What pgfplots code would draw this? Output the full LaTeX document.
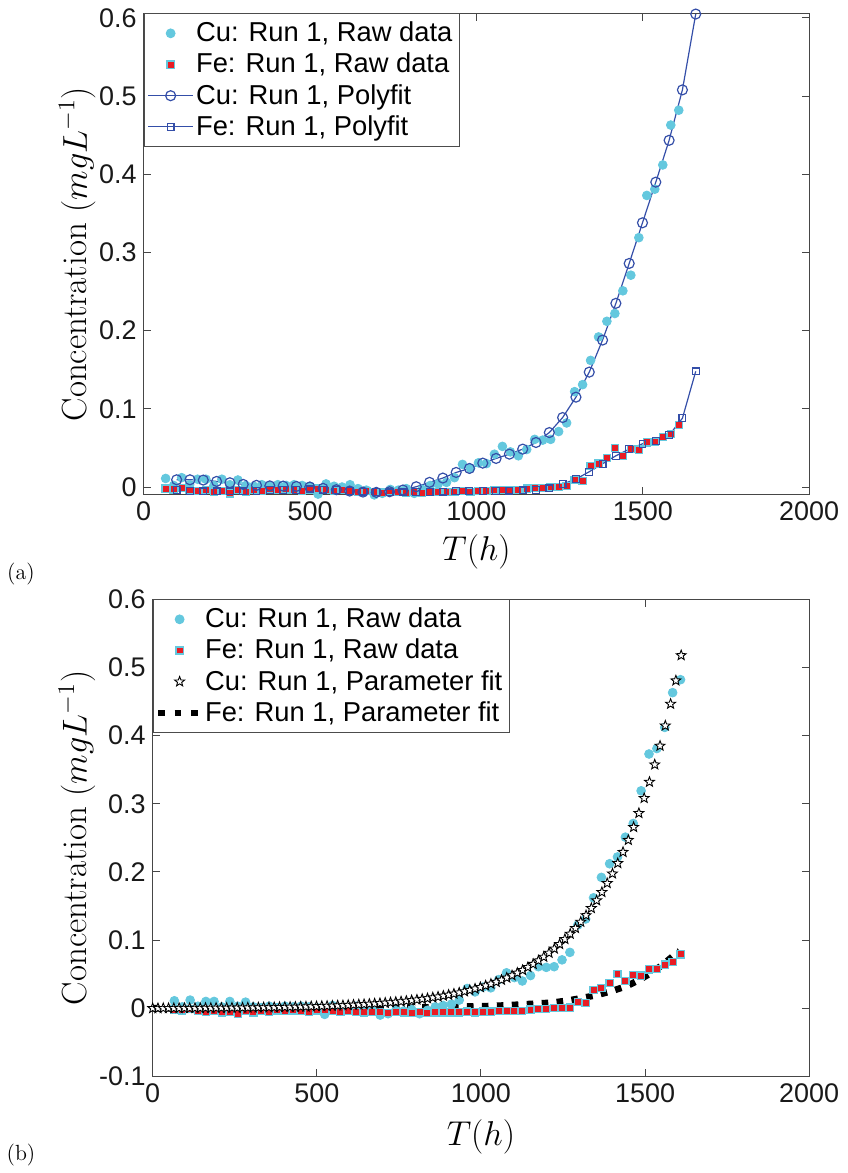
\documentclass[border=0pt]{standalone}
\usepackage{fontspec}
\setsansfont{Liberation Sans}
\usepackage{pgfplots}
\usepackage{pgfplotstable}
\pgfplotsset{compat=1.18}
\definecolor{cucyan}{RGB}{100,200,222}
\definecolor{fered}{RGB}{232,28,36}
\definecolor{fitblue}{RGB}{52,78,168}
\definecolor{axgray}{RGB}{70,70,70}

\pgfdeclareplotmark{ostar}{%
  \pgfpathmoveto{\pgfqpointpolar{90}{\pgfplotmarksize}}%
  \pgfpathlineto{\pgfqpointpolar{126}{0.42\pgfplotmarksize}}%
  \pgfpathlineto{\pgfqpointpolar{162}{\pgfplotmarksize}}%
  \pgfpathlineto{\pgfqpointpolar{198}{0.42\pgfplotmarksize}}%
  \pgfpathlineto{\pgfqpointpolar{234}{\pgfplotmarksize}}%
  \pgfpathlineto{\pgfqpointpolar{270}{0.42\pgfplotmarksize}}%
  \pgfpathlineto{\pgfqpointpolar{306}{\pgfplotmarksize}}%
  \pgfpathlineto{\pgfqpointpolar{342}{0.42\pgfplotmarksize}}%
  \pgfpathlineto{\pgfqpointpolar{18}{\pgfplotmarksize}}%
  \pgfpathlineto{\pgfqpointpolar{54}{0.42\pgfplotmarksize}}%
  \pgfpathclose
  \pgfusepathqfillstroke
}

\pgfplotstableread{
x cu fe
66 0.011 -0.002
90 0.002 -0.003
114 0.012 -0.001
138 0.003 -0.004
162 0.010 -0.005
187 0.010 -0.004
211 0.002 -0.006
235 0.010 -0.005
259 0.003 -0.008
283 0.009 -0.004
307 0.002 -0.006
331 0.001 -0.004
355 0.003 -0.005
379 0.001 -0.003
403 0.003 -0.004
428 0.002 -0.003
452 0.003 -0.004
476 0.002 -0.005
500 0.001 -0.003
524 -0.009 -0.002
548 0.004 -0.004
572 0.001 -0.005
596 0.000 -0.004
620 0.003 -0.005
644 -0.002 -0.006
669 -0.004 -0.005
693 -0.010 -0.006
717 -0.008 -0.007
741 -0.003 -0.005
765 -0.004 -0.006
789 -0.002 -0.007
813 -0.008 -0.006
837 -0.003 -0.007
861 0.002 -0.006
885 0.004 -0.006
910 0.006 -0.006
934 0.012 -0.006
958 0.029 -0.005
982 0.024 -0.006
1006 0.031 -0.005
1030 0.030 -0.005
1054 0.042 -0.004
1078 0.052 -0.004
1102 0.045 -0.004
1126 0.040 -0.004
1151 0.048 -0.002
1175 0.061 -0.001
1199 0.060 -0.001
1223 0.061 0.000
1247 0.071 0.000
1271 0.082 0.001
1295 0.122 0.009
1319 0.131 0.008
1343 0.162 0.027
1367 0.192 0.030
1392 0.212 0.037
1416 0.222 0.050
1440 0.251 0.040
1464 0.271 0.049
1488 0.319 0.048
1512 0.373 0.057
1536 0.381 0.058
1560 0.412 0.064
1584 0.463 0.068
1608 0.482 0.079
}\rawdata

\pgfplotstableread{
x cu fe
99 0.0093 -0.0034
139 0.0093 -0.0047
179 0.0089 -0.0055
219 0.0072 -0.0055
259 0.0055 -0.0055
299 0.0034 -0.0055
339 0.0022 -0.0047
379 0.0015 -0.0038
419 0.0012 -0.0034
459 0.0008 -0.0034
499 0.0000 -0.0030
539 -0.0017 -0.0034
579 -0.0034 -0.0040
619 -0.0051 -0.0047
659 -0.0064 -0.0058
699 -0.0068 -0.0066
739 -0.0060 -0.0068
779 -0.0038 -0.0068
819 0.0004 -0.0066
859 0.0060 -0.0062
899 0.0115 -0.0057
939 0.0187 -0.0053
979 0.0238 -0.0051
1019 0.0306 -0.0049
1059 0.0366 -0.0047
1099 0.0421 -0.0046
1139 0.0485 -0.0043
1179 0.0570 -0.0034
1219 0.0697 -0.0017
1259 0.0889 0.0038
1299 0.1150 0.0102
1339 0.1470 0.0196
1379 0.1880 0.0298
1419 0.2350 0.0400
1459 0.2860 0.0485
1499 0.3380 0.0553
1539 0.3900 0.0590
1579 0.4435 0.0663
1619 0.5080 0.0880
1659 0.6050 0.1480
}\polyfit

\pgfplotstableread{
x y
0 0.0000
16.1 0.0000
32.2 0.0001
48.3 0.0001
64.4 0.0001
80.5 0.0002
96.6 0.0002
112.7 0.0002
128.8 0.0003
144.9 0.0003
161 0.0004
177.1 0.0004
193.2 0.0005
209.3 0.0005
225.4 0.0006
241.5 0.0007
257.6 0.0007
273.7 0.0008
289.8 0.0009
305.9 0.0010
322 0.0011
338.1 0.0012
354.2 0.0013
370.3 0.0014
386.4 0.0016
402.5 0.0017
418.6 0.0019
434.7 0.0020
450.8 0.0022
466.9 0.0024
483 0.0026
499.1 0.0028
515.2 0.0031
531.3 0.0033
547.4 0.0036
563.5 0.0039
579.6 0.0042
595.7 0.0046
611.8 0.0050
627.9 0.0054
644 0.0058
660.1 0.0063
676.2 0.0068
692.3 0.0073
708.4 0.0079
724.5 0.0085
740.6 0.0092
756.7 0.0099
772.8 0.0107
788.9 0.0116
805 0.0125
821.1 0.0135
837.2 0.0145
853.3 0.0157
869.4 0.0169
885.5 0.0182
901.6 0.0196
917.7 0.0212
933.8 0.0228
949.9 0.0246
966 0.0265
982.1 0.0286
998.2 0.0308
1014.3 0.0332
1030.4 0.0357
1046.5 0.0385
1062.6 0.0415
1078.7 0.0447
1094.8 0.0481
1110.9 0.0519
1127 0.0559
1143.1 0.0602
1159.2 0.0648
1175.3 0.0699
1191.4 0.0753
1207.5 0.0811
1223.6 0.0873
1239.7 0.0940
1255.8 0.1013
1271.9 0.1091
1288 0.1175
1304.1 0.1266
1320.2 0.1363
1336.3 0.1468
1352.4 0.1581
1368.5 0.1703
1384.6 0.1834
1400.7 0.1975
1416.8 0.2127
1432.9 0.2291
1449 0.2467
1465.1 0.2657
1481.2 0.2862
1497.3 0.3082
1513.4 0.3319
1529.5 0.3574
1545.6 0.3849
1561.7 0.4145
1577.8 0.4464
1593.9 0.4807
1610 0.5177
}\cufit

\pgfplotstableread{
x y
0 0.0000
200 0.0000
400 0.0001
500 0.0002
600 0.0004
700 0.0007
800 0.0011
900 0.0019
1000 0.0030
1040 0.0035
1085 0.0045
1130 0.0058
1175 0.0070
1220 0.0084
1265 0.0113
1310 0.0152
1355 0.0196
1400 0.0254
1445 0.0327
1485 0.0424
1525 0.0537
1560 0.0664
1595 0.0805
1605 0.0840
}\fefit

\pgfplotsset{
  legend image code/.code={\path[draw=none,fill=none,use as bounding box] (0pt,-3pt) rectangle (22.5pt,3pt);\draw[mark repeat=2,mark phase=2,#1] plot coordinates {(0pt,0pt) (11.25pt,0pt) (22.5pt,0pt)};},
  markleg/.style={legend image code/.code={\path[draw=none,fill=none,use as bounding box] (0pt,-3pt) rectangle (22.5pt,3pt);\draw[##1] plot coordinates {(11.25pt,0pt)};}},
  dotleg/.style={legend image code/.code={\path[draw=none,fill=none,use as bounding box] (0pt,-3pt) rectangle (22.5pt,3pt);\draw[##1, dash pattern=on 3.3pt off 5pt] (0.5pt,0pt) -- (20.7pt,0pt);}},
  mystyle/.style={
    scale only axis,
    xmin=0, xmax=2000,
    xtick={0,500,1000,1500,2000},
    tick align=inside,
    tick pos=both,
    major tick length=3.8pt,
    axis line style={axgray, line width=0.5pt},
    every tick/.style={axgray, line width=0.5pt},
    tick label style={font=\sffamily\fontsize{13.5}{16}\selectfont, text=black!90},
    /pgf/number format/assume math mode=true,
    /pgf/number format/1000 sep={},
    label style={font=\fontsize{17.5}{20}\selectfont},
    xlabel={$T(h)$},
    ylabel={Concentration $(mgL^{-1})$},
    legend cell align=left,
    legend style={at={(0,1)}, anchor=north west, draw=black!70, line width=0.5pt, fill=white,
      font=\sffamily\fontsize{13.7}{16}\selectfont, inner xsep=2pt, inner ysep=2pt, row sep=0pt,
      nodes={inner xsep=1.5pt, inner ysep=2.1pt}, cells={anchor=west}},
  }
}

\begin{document}
\begin{tikzpicture}
\path (0,0) rectangle (423.5pt,-586.5pt);

\begin{axis}[mystyle,
  at={(71pt,-6.65pt)}, anchor=north west,
  width=333.5pt, height=241.35pt,
  ymin=-0.01, ymax=0.606,
  ytick={0,0.1,0.2,0.3,0.4,0.5,0.6},
  yticklabels={0,0.1,0.2,0.3,0.4,0.5,0.6},
  xlabel style={at={(axis description cs:0.5,-0.118)}, anchor=center},
  ylabel style={at={(axis description cs:-0.100,0.5)}, anchor=center},
]
\addplot[only marks, mark=*, mark size=2.2pt, color=cucyan, markleg] table[x=x,y=cu]{\rawdata};
\addlegendentry{Cu: Run 1, Raw data}
\addplot[only marks, mark=square*, mark size=1.8pt, mark options={fill=fered, draw=cucyan, line width=0.6pt}, markleg] table[x=x,y=fe]{\rawdata};
\addlegendentry{Fe: Run 1, Raw data}
\addplot[fitblue, line width=0.6pt, mark=o, mark size=2.5pt] table[x=x,y=cu]{\polyfit};
\addlegendentry{Cu: Run 1, Polyfit}
\addplot[fitblue, line width=0.6pt, mark=square, mark size=1.7pt] table[x=x,y=fe]{\polyfit};
\addlegendentry{Fe: Run 1, Polyfit}
\end{axis}

\begin{axis}[mystyle,
  at={(75.5pt,-300.3pt)}, anchor=north west,
  width=329pt, height=239.15pt,
  ymin=-0.1, ymax=0.6,
  ytick={-0.1,0,0.1,0.2,0.3,0.4,0.5,0.6},
  yticklabels={-0.1,0,0.1,0.2,0.3,0.4,0.5,0.6},
  xlabel style={at={(axis description cs:0.5,-0.1275)}, anchor=center},
  ylabel style={at={(axis description cs:-0.1155,0.5)}, anchor=center},
]
\addplot[only marks, mark=*, mark size=2.2pt, color=cucyan, markleg] table[x=x,y=cu]{\rawdata};
\addlegendentry{Cu: Run 1, Raw data}
\addplot[only marks, mark=square*, mark size=1.8pt, mark options={fill=fered, draw=cucyan, line width=0.6pt}, markleg] table[x=x,y=fe]{\rawdata};
\addlegendentry{Fe: Run 1, Raw data}
\addplot[only marks, mark=ostar, mark size=2.6pt, mark options={draw=black, fill=white, line width=0.45pt}, markleg] table[x=x,y=y]{\cufit};
\addlegendentry{Cu: Run 1, Parameter fit}
\addplot[black, no marks, line width=3.3pt, dash pattern=on 3.3pt off 4.2pt, dotleg] table[x=x,y=y]{\fefit};
\addlegendentry{Fe: Run 1, Parameter fit}
\end{axis}

\node[font=\fontsize{11}{13}\selectfont] at (9.5pt,-287.5pt) {(a)};
\node[font=\fontsize{11}{13}\selectfont] at (9.5pt,-579pt) {(b)};
\end{tikzpicture}
\end{document}
